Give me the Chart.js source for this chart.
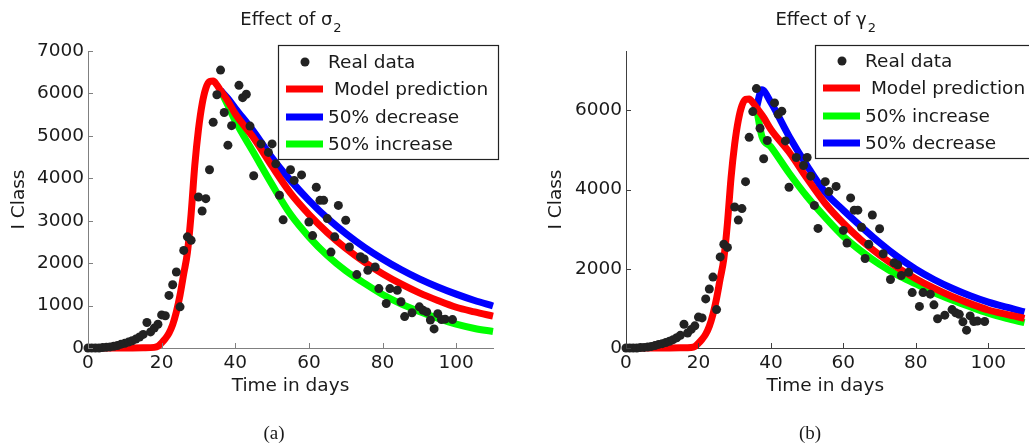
<!DOCTYPE html>
<html>
<head>
<meta charset="utf-8">
<script src="https://cdn.jsdelivr.net/npm/chart.js@4"></script>
<style>
  body { margin: 0; background: #fff; width: 1029px; height: 447px; overflow: hidden; position: relative; }
  canvas { position: absolute; top: 0; }
  #c1 { left: 0; }
  #c2 { left: 515px; }
</style>
</head>
<body>
<canvas id="c1" width="515" height="447"></canvas>
<canvas id="c2" width="514" height="447"></canvas>
<script>
// real data (same in both panels)
const realDays = [0,1,2,3,4,5,6,7,8,9,10,11,12,13,14,15,16,17,18,19,20,21,22,23,24,25,26,27,28,30,31,32,33,34,35,36,37,38,39,41,42,43,44,45,47,49,50,51,52,53,55,56,58,60,61,62,63,64,65,66,67,68,70,71,73,74,75,76,78,79,81,82,84,85,86,88,90,91,92,93,94,95,96,97,99];
const realCases = [0,0,0,0,10,15,25,40,60,90,110,140,170,210,260,320,600,380,470,560,780,760,1240,1490,1790,970,2300,2620,2540,3560,3230,3520,4200,5320,5970,6550,5550,4780,5240,6190,5900,5980,5230,4060,4810,4610,4810,4340,3600,3020,4200,3950,4080,2970,2650,3790,3480,3480,3050,2260,2620,3360,3010,2380,1730,2150,2100,1830,1910,1400,1050,1400,1360,1090,740,830,970,890,850,660,450,810,670,680,670];

// model prediction (same in both panels)
const modelDays = [0,5,10,15,18,19,20,21,22,23,24,25,26,27,28,29,30,31,32,33,34,35,36,38,40,45,50,55,60,65,70,75,80,85,90,95,100,105,110];
const modelCases = [0,0,0,5,15,40,120,220,350,550,850,1250,1750,2250,3150,4300,5150,5750,6120,6280,6290,6200,6070,5820,5520,4950,4280,3650,3150,2720,2350,2030,1750,1510,1300,1120,960,850,750];

// panel (a): effect of sigma_2
const sigmaDays = [36,38,40,45,50,55,60,65,70,75,80,85,90,95,100,105,110];
const sigmaDecrease = [6070,5880,5650,5100,4480,3950,3480,3060,2700,2380,2100,1850,1630,1440,1270,1120,990];
const sigmaIncrease = [6070,5720,5350,4600,3850,3150,2620,2180,1820,1530,1260,1040,860,700,560,460,390];

// panel (b): effect of gamma_2
const gammaDays = [36,37.5,40,45,50,55,60,65,70,75,80,85,90,95,100,105,110];
const gammaIncrease = [6070,5350,5080,4420,3820,3300,2820,2440,2110,1840,1620,1400,1210,1040,880,750,640];
const gammaDecrease = [6070,6520,6200,5350,4600,3930,3480,3060,2660,2300,1990,1730,1510,1320,1160,1030,910];

// tick labels
const xTicks = [0, 20, 40, 60, 80, 100];
const sigmaYTicks = [0, 1000, 2000, 3000, 4000, 5000, 6000, 7000];
const gammaYTicks = [0, 2000, 4000, 6000];

const FONT = '"DejaVu Sans", Arial, sans-serif';
const TXT = '#1a1a1a';

const pts = (xs, ys) => xs.map((x, i) => ({ x: x, y: ys[i] }));
const fixTicks = arr => s => { s.ticks = arr.map(v => ({ value: v })); };

const frame = {
  id: 'frame',
  afterDraw(chart, args, o) {
    const ctx = chart.ctx;
    const { left, right, bottom } = chart.chartArea;
    const xs = chart.scales.x, ys = chart.scales.y;
    ctx.save();
    // inward tick marks
    ctx.strokeStyle = o.axisColor;
    ctx.lineWidth = 1;
    ctx.beginPath();
    xs.ticks.forEach(t => {
      const p = Math.round(xs.getPixelForValue(t.value)) + 0.5;
      ctx.moveTo(p, bottom); ctx.lineTo(p, bottom - 5);
    });
    ys.ticks.forEach(t => {
      const p = Math.round(ys.getPixelForValue(t.value)) + 0.5;
      ctx.moveTo(left, p); ctx.lineTo(left + 5, p);
    });
    ctx.stroke();

    // title with subscript
    ctx.fillStyle = TXT;
    ctx.textBaseline = 'alphabetic';
    ctx.textAlign = 'left';
    ctx.font = '18px ' + FONT;
    const w1 = ctx.measureText(o.title).width;
    ctx.font = '13px ' + FONT;
    const w2 = ctx.measureText(o.sub).width;
    const tx = (left + right) / 2 - (w1 + w2) / 2;
    ctx.font = '18px ' + FONT;
    ctx.fillText(o.title, tx, 25);
    ctx.font = '13px ' + FONT;
    ctx.fillText(o.sub, tx + w1 + 1, 32);

    // legend box
    const L = o.legend;
    ctx.fillStyle = '#fff';
    ctx.fillRect(L.x, L.y, L.w, L.h);
    ctx.strokeStyle = '#222';
    ctx.lineWidth = 1.2;
    ctx.strokeRect(L.x + 0.5, L.y + 0.5, L.w, L.h);
    ctx.font = '18.5px ' + FONT;
    ctx.textBaseline = 'middle';
    o.legendOrder.forEach((idx, row) => {
      const ds = chart.data.datasets[idx];
      const y = L.rows[row];
      if (ds.showLine) {
        ctx.strokeStyle = ds.borderColor;
        ctx.lineWidth = 7;
        ctx.beginPath();
        ctx.moveTo(L.x + 8, y); ctx.lineTo(L.x + 45, y);
        ctx.stroke();
      } else {
        ctx.fillStyle = ds.backgroundColor;
        ctx.beginPath();
        ctx.arc(L.x + 27, y, 4.5, 0, Math.PI * 2);
        ctx.fill();
      }
      ctx.fillStyle = TXT;
      ctx.fillText(ds.label, L.x + 50, y + 1);
    });

    // sub-figure caption
    ctx.font = '19px "Liberation Serif", "DejaVu Serif", serif';
    ctx.textAlign = 'center';
    ctx.textBaseline = 'alphabetic';
    ctx.fillText(o.caption, o.captionX, 439);
    ctx.restore();
  }
};

function lineSet(label, color, xs, ys, order) {
  return {
    label: label, data: pts(xs, ys), showLine: true, borderColor: color, backgroundColor: color,
    borderWidth: 7, pointRadius: 0, cubicInterpolationMode: 'monotone', clip: 10, order: order
  };
}

function makeChart(id, cfg) {
  return new Chart(document.getElementById(id), {
    type: 'scatter',
    data: {
      datasets: [
        { label: 'Real data', data: pts(realDays, realCases), backgroundColor: '#222', borderWidth: 0, pointRadius: 4.5, clip: 10, order: 0 },
        lineSet(' Model prediction', '#ff0000', modelDays, modelCases, 1),
        lineSet(cfg.s2label, cfg.s2color, cfg.days, cfg.s2, 2),
        lineSet(cfg.s3label, cfg.s3color, cfg.days, cfg.s3, 3)
      ]
    },
    options: {
      responsive: false, animation: false, events: [],
      layout: { padding: { top: 51, right: cfg.padRight, left: 0, bottom: 0 } },
      plugins: {
        legend: { display: false }, tooltip: { enabled: false },
        frame: cfg.frame
      },
      scales: {
        x: {
          type: 'linear', min: 0, max: 110,
          afterBuildTicks: fixTicks(xTicks),
          ticks: { padding: 4, maxRotation: 0, autoSkip: false, color: TXT, font: { family: FONT, size: 18.5 }, callback: v => String(v) },
          grid: { display: false, drawTicks: false },
          border: { color: cfg.axisColor, width: 1 },
          title: { display: true, text: 'Time in days', color: TXT, font: { family: FONT, size: 18.5 }, padding: { top: 0, bottom: 50 } },
          afterFit: s => { s.height = 99; }
        },
        y: {
          type: 'linear', min: 0, max: cfg.yMax,
          afterBuildTicks: fixTicks(cfg.yTicks),
          ticks: { padding: 4, autoSkip: false, color: TXT, font: { family: FONT, size: 18.5 }, callback: v => String(v) },
          grid: { display: false, drawTicks: false },
          border: { color: cfg.axisColor, width: 1 },
          title: { display: true, text: 'I Class', color: TXT, font: { family: FONT, size: 18.5 }, padding: { top: cfg.yTitlePad, bottom: 0 } },
          afterFit: s => { s.width = cfg.yWidth; }
        }
      }
    },
    plugins: [frame]
  });
}

makeChart('c1', {
  days: sigmaDays,
  s2label: '50% decrease', s2color: '#0000ff', s2: sigmaDecrease,
  s3label: '50% increase', s3color: '#00ff00', s3: sigmaIncrease,
  yMax: 7000, yTicks: sigmaYTicks, yWidth: 88, yTitlePad: 8, padRight: 22, axisColor: '#808080',
  frame: {
    axisColor: '#808080', title: 'Effect of \u03c3', sub: '2',
    legend: { x: 278, y: 45, w: 220, h: 114, rows: [62, 89, 117, 144] },
    legendOrder: [0, 1, 2, 3], caption: '(a)', captionX: 274
  }
});

makeChart('c2', {
  days: gammaDays,
  s2label: '50% increase', s2color: '#00ff00', s2: gammaIncrease,
  s3label: '50% decrease', s3color: '#0000ff', s3: gammaDecrease,
  yMax: 7500, yTicks: gammaYTicks, yWidth: 111, yTitlePad: 30, padRight: 0, axisColor: '#404040',
  frame: {
    axisColor: '#404040', title: 'Effect of \u03b3', sub: '2',
    legend: { x: 300, y: 45, w: 230, h: 113, rows: [61, 88, 116, 143] },
    legendOrder: [0, 1, 2, 3], caption: '(b)', captionX: 295
  }
});
</script>
</body>
</html>
